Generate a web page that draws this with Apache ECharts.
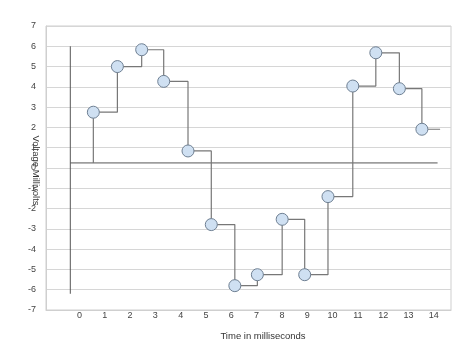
<!DOCTYPE html>
<html>
<head>
<meta charset="utf-8">
<script src="https://cdn.jsdelivr.net/npm/echarts@6/dist/echarts.min.js"></script>
<style>
html,body{margin:0;padding:0;background:#fff;}
#chart{width:474px;height:355px;}
</style>
</head>
<body>
<div id="chart"></div>
<script>
// Sample times (ms) and voltages (mV)
const timeMs    = [0.55, 1.50, 2.46, 3.33, 4.29, 5.21, 6.14, 7.03, 8.01, 8.90, 9.82, 10.80, 11.71, 12.64, 13.53];
const voltageMv = [2.75, 5.00, 5.83, 4.27, 0.84, -2.79, -5.80, -5.26, -2.53, -5.26, -1.41, 4.04, 5.68, 3.91, 1.91];
// Step trace lead-in (from the baseline) and tail (after last sample)
const leadIn = [0.55, 0.25];
const tailOut = [14.25, 1.91];
// Hand-drawn reference axes
const refVerticalX = [-0.36, -0.36];
const refVerticalY = [6.0, -6.2];
const refHorizontalX = [-0.36, 14.15];
const refHorizontalY = [0.25, 0.25];
// Tick labels
const xTicks = [0,1,2,3,4,5,6,7,8,9,10,11,12,13,14];
const yMin = -7, yMax = 7;
const xTitle = 'Time in milliseconds';
const yTitle = 'Voltage Millivolts';

const stepData = [{value: leadIn, symbol: 'none'}]
  .concat(timeMs.map((t, i) => [t, voltageMv[i]]))
  .concat([{value: tailOut, symbol: 'none'}]);

const chart = echarts.init(document.getElementById('chart'), null, {renderer: 'canvas'});
const font = 'Liberation Sans, Arial, sans-serif';
chart.setOption({
  animation: false,
  backgroundColor: '#ffffff',
  grid: {left: 46, right: 23, top: 26, bottom: 45, show: true, borderColor: '#cfcfcf', borderWidth: 1},
  xAxis: {
    type: 'value', min: -1.32, max: 14.68,
    axisLine: {show: true, onZero: false, lineStyle: {color: '#cfcfcf'}},
    axisTick: {show: false},
    splitLine: {show: false},
    axisLabel: {customValues: xTicks, margin: 1, fontSize: 9, color: '#444', fontFamily: font}
  },
  yAxis: {
    type: 'value', min: yMin, max: yMax, interval: 1,
    axisLine: {show: true, onZero: false, lineStyle: {color: '#cfcfcf'}},
    axisTick: {show: false},
    splitLine: {show: true, lineStyle: {color: '#d6d6d6'}},
    axisLabel: {margin: 10, fontSize: 9, color: '#444', fontFamily: font}
  },
  graphic: [
    {type: 'text', x: 35.5, y: 170.5, rotation: -Math.PI / 2,
     style: {text: yTitle, fontSize: 9.5, fontFamily: font, fill: '#333', align: 'center', verticalAlign: 'middle'}},
    {type: 'text', x: 263, y: 336,
     style: {text: xTitle, fontSize: 9.5, fontFamily: font, fill: '#333', align: 'center', verticalAlign: 'middle'}}
  ],
  series: [
    {type: 'line', data: refVerticalX.map((x, i) => [x, refVerticalY[i]]), symbol: 'none',
     lineStyle: {color: '#555', width: 1}, z: 1, silent: true},
    {type: 'line', data: refHorizontalX.map((x, i) => [x, refHorizontalY[i]]), symbol: 'none',
     lineStyle: {color: '#555', width: 1}, z: 1, silent: true},
    {type: 'line', step: 'end', data: stepData, symbol: 'circle', symbolSize: 12,
     lineStyle: {color: '#777', width: 1.2},
     itemStyle: {color: '#cfe0f2', borderColor: '#6f8093', borderWidth: 1},
     z: 3}
  ]
});
</script>
</body>
</html>
